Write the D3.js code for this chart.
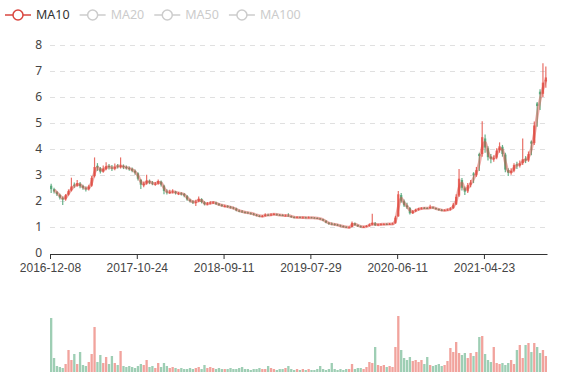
<!DOCTYPE html>
<html><head><meta charset="utf-8">
<script src="https://cdn.jsdelivr.net/npm/d3@7/dist/d3.min.js"></script>
<style>body{margin:0;background:#fff;}svg{display:block;font-family:"Noto Sans",sans-serif;}</style>
</head><body><svg id="c" width="577" height="380"></svg>
<script>
// ---- data (one point per trading week) ----
const tickLabels = ["2016-12-08","2017-10-24","2018-09-11","2019-07-29","2020-06-11","2021-04-23"];
const tickEvery = 30;
const open = [2.58,2.45,2.33,2.22,2.10,2.05,2.24,2.40,2.62,2.58,2.66,2.57,2.48,2.44,2.58,2.95,3.35,3.25,3.12,3.22,
3.34,3.28,3.24,3.35,3.30,3.34,3.30,3.26,3.23,3.15,3.06,2.80,2.60,2.66,2.76,2.70,2.64,2.66,2.74,2.58,
2.36,2.30,2.34,2.35,2.28,2.29,2.26,2.18,2.04,1.97,1.93,1.98,2.06,1.94,1.86,1.90,1.93,1.93,1.88,1.84,
1.80,1.80,1.77,1.74,1.70,1.62,1.59,1.57,1.55,1.52,1.50,1.46,1.42,1.40,1.41,1.46,1.44,1.47,1.48,1.46,
1.45,1.43,1.43,1.41,1.37,1.36,1.37,1.36,1.36,1.35,1.36,1.35,1.34,1.32,1.29,1.23,1.15,1.12,1.10,1.08,
1.05,1.03,1.00,0.97,0.99,1.13,1.07,1.02,0.99,1.00,1.03,1.08,1.13,1.06,1.09,1.10,1.11,1.10,1.11,1.13,
1.40,2.22,1.98,1.82,1.72,1.52,1.60,1.65,1.70,1.73,1.72,1.71,1.75,1.72,1.68,1.65,1.63,1.64,1.66,1.71,
1.86,2.20,2.80,2.48,2.36,2.62,3.05,2.98,3.80,3.80,4.40,4.02,3.70,3.60,3.66,3.95,4.08,3.78,3.18,3.08,
3.16,3.40,3.36,3.45,3.62,3.55,4.28,4.22,5.75,6.20,6.12,6.60];
const close = [2.45,2.36,2.25,2.12,2.05,2.22,2.38,2.55,2.60,2.68,2.56,2.50,2.45,2.55,2.88,3.30,3.28,3.12,3.24,3.33,
3.30,3.25,3.30,3.31,3.36,3.30,3.27,3.24,3.16,3.08,2.85,2.62,2.66,2.78,2.70,2.67,2.66,2.76,2.62,2.38,
2.32,2.34,2.36,2.30,2.29,2.27,2.20,2.05,1.98,1.95,1.96,2.08,1.95,1.87,1.90,1.93,1.94,1.88,1.84,1.81,
1.80,1.77,1.74,1.71,1.63,1.60,1.58,1.55,1.53,1.51,1.47,1.43,1.40,1.41,1.46,1.45,1.47,1.49,1.46,1.45,
1.44,1.43,1.42,1.37,1.36,1.37,1.36,1.36,1.35,1.36,1.35,1.34,1.32,1.30,1.24,1.16,1.12,1.10,1.08,1.06,
1.03,1.00,0.98,0.98,1.15,1.07,1.02,1.00,1.00,1.03,1.08,1.15,1.06,1.09,1.10,1.10,1.10,1.11,1.12,1.35,
2.25,2.00,1.82,1.75,1.52,1.60,1.65,1.70,1.71,1.72,1.71,1.76,1.72,1.68,1.65,1.63,1.64,1.66,1.70,1.85,
2.15,2.85,2.50,2.35,2.60,2.70,3.00,3.18,3.72,4.45,4.05,3.68,3.62,3.64,3.93,4.10,3.80,3.20,3.08,3.15,
3.38,3.37,3.43,3.60,3.55,3.80,4.20,4.90,5.65,6.10,6.55,6.75];
const low = [2.30,2.28,2.18,2.05,1.84,2.00,2.20,2.36,2.50,2.54,2.48,2.42,2.36,2.40,2.54,2.90,3.15,3.05,3.08,3.18,
3.20,3.15,3.18,3.24,3.24,3.22,3.20,3.16,3.10,3.00,2.78,2.45,2.52,2.62,2.64,2.60,2.58,2.62,2.55,2.25,
2.24,2.26,2.28,2.24,2.22,2.20,2.14,2.00,1.93,1.88,1.80,1.94,1.90,1.82,1.83,1.86,1.88,1.84,1.80,1.77,
1.75,1.73,1.70,1.67,1.60,1.56,1.54,1.51,1.50,1.47,1.43,1.40,1.37,1.37,1.39,1.41,1.42,1.44,1.43,1.42,
1.41,1.40,1.39,1.35,1.33,1.34,1.34,1.33,1.33,1.33,1.33,1.32,1.30,1.27,1.21,1.13,1.08,1.06,1.05,1.03,
1.00,0.97,0.95,0.94,0.98,1.04,0.99,0.97,0.96,0.98,1.01,1.05,1.03,1.04,1.06,1.07,1.07,1.08,1.09,1.12,
1.38,1.92,1.76,1.68,1.47,1.49,1.57,1.62,1.67,1.68,1.68,1.69,1.69,1.65,1.62,1.60,1.61,1.62,1.63,1.69,
1.84,2.15,2.40,2.22,2.30,2.52,2.68,2.92,3.15,3.70,3.85,3.55,3.45,3.50,3.60,3.85,3.70,3.10,2.95,3.00,
3.10,3.22,3.28,3.38,3.45,3.50,3.75,4.15,4.85,5.50,6.00,6.35];
const high = [2.66,2.50,2.38,2.27,2.16,2.26,2.44,2.89,2.70,2.80,2.72,2.62,2.55,2.62,2.95,3.67,3.45,3.30,3.36,3.48,
3.42,3.38,3.44,3.42,3.67,3.40,3.36,3.32,3.28,3.20,3.10,2.84,2.74,3.00,2.82,2.76,2.72,2.82,2.78,2.62,
2.44,2.42,2.44,2.38,2.34,2.33,2.30,2.22,2.08,2.02,2.04,2.16,2.10,1.98,1.95,1.98,1.98,1.96,1.91,1.88,
1.85,1.83,1.80,1.77,1.73,1.66,1.64,1.60,1.58,1.56,1.53,1.49,1.45,1.45,1.52,1.50,1.52,1.53,1.51,1.49,
1.48,1.47,1.52,1.43,1.40,1.40,1.39,1.39,1.38,1.39,1.38,1.37,1.36,1.34,1.31,1.25,1.18,1.16,1.13,1.11,
1.08,1.05,1.02,1.02,1.20,1.16,1.09,1.05,1.03,1.06,1.12,1.50,1.18,1.12,1.13,1.13,1.13,1.14,1.16,1.42,
2.38,2.30,2.05,1.92,1.76,1.64,1.69,1.73,1.75,1.76,1.75,1.85,1.78,1.74,1.70,1.68,1.67,1.70,1.75,1.92,
2.25,3.22,2.88,2.55,2.68,2.80,3.10,3.30,3.85,5.06,4.55,4.10,3.80,3.75,4.02,4.25,4.15,3.85,3.25,3.25,
3.45,3.50,3.55,4.40,3.72,3.90,4.32,5.05,5.80,6.30,7.30,7.17];
const volume = [54,14,6,5,4,8,22,12,18,8,20,7,6,10,18,45,10,17,9,15,
8,16,9,7,21,6,5,6,5,4,6,8,7,12,5,6,4,9,5,9,
6,4,5,4,3,4,3,3,4,3,4,5,3,7,4,5,4,3,4,3,
3,3,4,3,3,4,5,3,3,2,3,3,4,3,3,6,4,3,2,3,
3,4,6,3,2,3,2,3,2,3,2,2,3,6,3,2,3,9,3,2,
3,2,3,3,8,3,4,4,3,5,10,9,25,7,6,7,5,6,5,25,
56,22,14,12,15,11,12,10,12,8,15,7,6,7,8,6,7,11,24,20,
30,19,17,19,14,19,16,20,35,36,18,12,10,25,9,8,9,7,9,12,
8,22,27,14,27,29,20,29,25,19,22,16];
const ma10 = [null,2.42,2.32,2.20,2.10,2.12,2.28,2.45,2.56,2.63,2.62,2.53,2.48,2.50,2.70,3.08,3.28,3.20,3.18,3.28,
3.31,3.27,3.27,3.33,3.34,3.31,3.28,3.25,3.20,3.12,2.97,2.74,2.64,2.72,2.73,2.68,2.66,2.71,2.69,2.50,
2.35,2.33,2.35,2.33,2.30,2.28,2.24,2.12,2.02,1.96,1.95,2.02,2.01,1.91,1.88,1.91,1.93,1.91,1.86,1.83,
1.80,1.78,1.75,1.72,1.67,1.62,1.59,1.56,1.54,1.52,1.49,1.45,1.42,1.41,1.43,1.45,1.46,1.48,1.47,1.45,
1.44,1.43,1.43,1.40,1.37,1.36,1.36,1.36,1.35,1.35,1.35,1.34,1.33,1.31,1.27,1.20,1.14,1.11,1.09,1.07,
1.04,1.01,0.99,0.98,1.06,1.10,1.05,1.01,1.00,1.01,1.05,1.11,1.10,1.08,1.09,1.10,1.10,1.11,1.11,1.22,
1.75,2.10,1.92,1.79,1.64,1.57,1.62,1.67,1.70,1.71,1.71,1.73,1.74,1.70,1.67,1.64,1.63,1.65,1.68,1.77,
1.98,2.48,2.68,2.44,2.48,2.65,2.85,3.09,3.45,4.05,4.25,3.88,3.65,3.63,3.78,4.00,3.96,3.50,3.14,3.11,
3.26,3.37,3.40,3.51,3.58,3.68,4.00,4.55,5.27,5.88,6.32,6.65];
const legendNames = ["MA10","MA20","MA50","MA100"];
const legendActive = [true,false,false,false];
const priceTicks = [0,1,2,3,4,5,6,7,8];

// ---- drawing ----
const upColor = "#e5574d", downColor = "#4fa576", maColor = "#d9463f";
const svg = d3.select("#c");
const N = close.length;
const idx = d3.range(N);
const x = d3.scaleBand().domain(idx).range([50, 547]).paddingInner(0.2).paddingOuter(0);
const step = x.step();
const xl = i => 50 + i * step; // band start (tick position)
const y = d3.scaleLinear().domain([0, 8]).range([252.7, 45]);
const yv = d3.scaleLinear().domain([0, 60]).range([372, 312]);

// grid lines
svg.append("g").selectAll("line").data(priceTicks.filter(t => t > 0)).join("line")
  .attr("x1", 50).attr("x2", 547).attr("y1", d => Math.round(y(d)) + 0.5).attr("y2", d => Math.round(y(d)) + 0.5)
  .attr("stroke", "#e0e0e0").attr("stroke-dasharray", "5,5");

// y labels
svg.append("g").selectAll("text").data(priceTicks).join("text")
  .attr("x", 42).attr("y", d => y(d)).attr("dy", "0.35em").attr("text-anchor", "end")
  .attr("font-size", 12).attr("fill", "#444").text(d => d);

// x axis
const xAxis = d3.axisBottom(x)
  .tickValues(idx.filter(i => i % tickEvery === 0))
  .tickFormat(i => tickLabels[i / tickEvery])
  .tickSizeOuter(0).tickSizeInner(5).tickPadding(4);
const gx = svg.append("g").attr("transform", "translate(0,254)").call(xAxis);
gx.select(".domain").attr("stroke", "#333");
gx.selectAll(".tick").attr("transform", i => `translate(${xl(i) + 0.5},0)`);
gx.selectAll(".tick line").attr("stroke", "#333");
gx.selectAll(".tick text").attr("font-size", 12).attr("fill", "#444").attr("font-family", null);

// candles
const cg = svg.append("g");
const cand = cg.selectAll("g").data(idx).join("g");
const col = i => close[i] >= open[i] ? upColor : downColor;
cand.append("line")
  .attr("x1", i => x(i) + x.bandwidth() / 2).attr("x2", i => x(i) + x.bandwidth() / 2)
  .attr("y1", i => y(high[i])).attr("y2", i => y(low[i]))
  .attr("stroke", col).attr("stroke-width", 1.2).attr("opacity", 0.85);
cand.append("rect")
  .attr("x", i => x(i)).attr("width", x.bandwidth())
  .attr("y", i => y(Math.max(open[i], close[i])))
  .attr("height", i => Math.max(1, Math.abs(y(open[i]) - y(close[i]))))
  .attr("fill", col).attr("opacity", 0.85);

// MA10 line
const line = d3.line().defined(d => d[1] != null)
  .x(d => x(d[0]) + x.bandwidth() / 2).y(d => y(d[1])).curve(d3.curveMonotoneX);
svg.append("path").datum(idx.map(i => [i, ma10[i]]))
  .attr("d", line).attr("fill", "none").attr("stroke", maColor)
  .attr("stroke-width", 3).attr("stroke-opacity", 0.45).attr("stroke-linejoin", "round");

// volume
svg.append("g").selectAll("rect").data(idx).join("rect")
  .attr("x", i => x(i)).attr("width", x.bandwidth())
  .attr("y", i => yv(volume[i])).attr("height", i => yv(0) - yv(volume[i]))
  .attr("fill", col).attr("opacity", 0.55);

// legend
let lx = 5;
const lg = svg.append("g");
legendNames.forEach((name, k) => {
  const c = legendActive[k] ? maColor : "#ccc";
  const g = lg.append("g");
  g.append("line").attr("x1", lx).attr("x2", lx + 26).attr("y1", 15).attr("y2", 15)
    .attr("stroke", c).attr("stroke-width", 1.5);
  g.append("circle").attr("cx", lx + 13).attr("cy", 15).attr("r", 5)
    .attr("fill", "#fff").attr("stroke", c).attr("stroke-width", 1.5);
  const t = g.append("text").attr("x", lx + 31).attr("y", 15).attr("dy", "0.35em")
    .attr("font-size", 12.5).attr("fill", legendActive[k] ? "#333" : "#ccc").text(name);
  lx += 31 + t.node().getComputedTextLength() + 10;
});
</script></body></html>
